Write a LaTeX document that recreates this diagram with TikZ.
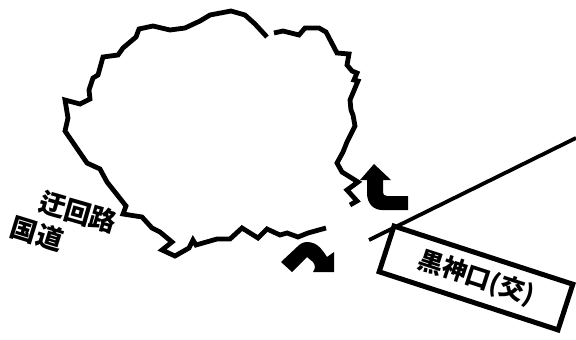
\documentclass[tikz,border=0pt]{standalone}
\usepackage{fontspec}
\newfontfamily\cjk{Noto Sans CJK JP}
\tikzset{
  road/.style={draw=black,line width=4.8pt,line join=miter,miter limit=3},
  ramp/.style={draw=black,line width=3.8pt},
  turn/.style={fill=black,draw=none},
  lbl/.style={font=\cjk\bfseries\fontsize{26.5}{26.5}\selectfont,inner sep=0pt,text=black},
  sign/.style={draw=black,fill=white,line width=5pt,minimum width=188pt,minimum height=48pt,inner sep=0pt,font=\cjk\bfseries\fontsize{25}{25}\selectfont}
}
\begin{document}
\begin{tikzpicture}[x=1pt,y=-1pt]
\useasboundingbox (0,0) rectangle (576,340);
% loop, upper-left section
\draw[road] (267,37) -- (255,24) -- (245,15) -- (231,11) -- (210,15) -- (200,21) -- (185,28) -- (170,30) -- (153,26) -- (139,29) -- (136,37) -- (123,48) -- (118,55) -- (103,57) -- (98,75) -- (93,78) -- (89,90) -- (90,99) -- (80,104) -- (65,100) -- (68,118) -- (65,131) -- (87,163) -- (100,169) -- (107,182) -- (126,206) -- (123,214) -- (142,217) -- (152,228) -- (160,232) -- (172,242) -- (162,250) -- (175,256) -- (189,248) -- (193,240) -- (196,245) -- (217,239) -- (230,239) -- (242,228) -- (258,238) -- (267,229) -- (280,235) -- (287,233) -- (298,237) -- (308,233) -- (326,228);
% loop, right section
\draw[road] (274,33) -- (283,31) -- (299,35) -- (305,28) -- (319,28) -- (326,32) -- (337,53) -- (349,54) -- (347,65) -- (352,71) -- (357,73) -- (354,80) -- (358,81) -- (350,100) -- (351,110) -- (353,115) -- (355,126) -- (347,142) -- (343,152) -- (337,163) -- (342,172) -- (358,182) -- (347,190) -- (357,201) -- (350,205);
% main road
\draw[ramp] (369,240) -- (576,138);
% turn arrows
\fill[turn] (374,164) -- (360,180) -- (367,180) -- (367,193) .. controls (367,204) and (374,210) .. (382,210) -- (408,210) -- (408,196) -- (387,196) .. controls (384,196) and (383,194) .. (383,192) -- (383,180) -- (391,180) -- cycle;
\fill[turn] (281,262) -- (292,272) -- (307,257) -- (313,262) .. controls (316,266) and (315,269) .. (313,272) -- (334,272) -- (334,252) -- (327,257) .. controls (323,251) and (318,242) .. (307,242) .. controls (303,242) and (300,244) .. (297,247) -- cycle;
% labels
\node[lbl,rotate=-16] (bypass) at (78,212) {迂回路};
\node[lbl,rotate=-17] (national) at (37,234) {国道};
\node[sign,rotate=-18] (ic) at (476,278) {黒神口(交)};
\end{tikzpicture}
\end{document}
